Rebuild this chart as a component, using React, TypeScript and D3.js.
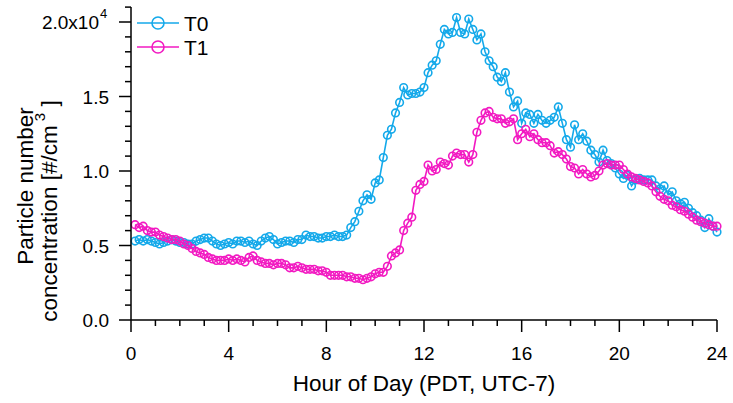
import React from "react";
import * as d3 from "d3";

// particle number concentration, units of 1e4 #/cm3, 10-min averages from 00:10 to 24:00
const t0Values = [
  0.53, 0.54, 0.53, 0.54, 0.53, 0.52,
  0.51, 0.52, 0.53, 0.54, 0.53, 0.52,
  0.52, 0.51, 0.51, 0.53, 0.54, 0.55,
  0.55, 0.53, 0.51, 0.50, 0.51, 0.52,
  0.51, 0.53, 0.53, 0.52, 0.53, 0.51,
  0.50, 0.53, 0.55, 0.56, 0.54, 0.51,
  0.52, 0.53, 0.53, 0.52, 0.54, 0.54,
  0.57, 0.56, 0.56, 0.55, 0.55, 0.56,
  0.56, 0.57, 0.56, 0.56, 0.57, 0.62,
  0.66, 0.73, 0.80, 0.84, 0.81, 0.92,
  0.94, 1.09, 1.24, 1.28, 1.39, 1.46,
  1.56, 1.51, 1.52, 1.52, 1.53, 1.56,
  1.66, 1.71, 1.74, 1.85, 1.95, 1.92,
  1.93, 2.03, 1.93, 1.92, 2.02, 1.95,
  1.88, 1.92, 1.80, 1.74, 1.70, 1.63,
  1.60, 1.66, 1.53, 1.43, 1.47, 1.32,
  1.39, 1.38, 1.32, 1.38, 1.34, 1.32,
  1.34, 1.36, 1.43, 1.32, 1.21, 1.16,
  1.31, 1.21, 1.25, 1.20, 1.14, 1.11,
  1.06, 1.14, 1.07, 1.05, 1.02, 0.98,
  0.95, 0.97, 0.90, 0.94, 0.95, 0.94,
  0.94, 0.94, 0.90, 0.88, 0.90, 0.84,
  0.86, 0.80, 0.78, 0.79, 0.75, 0.72,
  0.70, 0.67, 0.62, 0.68, 0.63, 0.59,
];

const t1Values = [
  0.64, 0.62, 0.63, 0.60, 0.59, 0.59,
  0.57, 0.56, 0.55, 0.54, 0.54, 0.53,
  0.51, 0.50, 0.48, 0.46, 0.45, 0.44,
  0.42, 0.41, 0.40, 0.40, 0.40, 0.41,
  0.40, 0.41, 0.40, 0.39, 0.42, 0.43,
  0.40, 0.39, 0.38, 0.38, 0.37, 0.38,
  0.38, 0.37, 0.35, 0.35, 0.36, 0.35,
  0.34, 0.34, 0.34, 0.33, 0.33, 0.32,
  0.30, 0.30, 0.30, 0.30, 0.29, 0.29,
  0.28, 0.28, 0.27, 0.28, 0.29, 0.31,
  0.32, 0.32, 0.36, 0.43, 0.45, 0.47,
  0.60, 0.65, 0.69, 0.87, 0.91, 0.93,
  1.04, 1.00, 1.01, 1.06, 1.05, 1.04,
  1.10, 1.12, 1.11, 1.11, 1.06, 1.11,
  1.26, 1.34, 1.39, 1.40, 1.36, 1.35,
  1.35, 1.32, 1.33, 1.35, 1.21, 1.25,
  1.28, 1.23, 1.25, 1.21, 1.19, 1.19,
  1.17, 1.12, 1.13, 1.11, 1.08, 1.03,
  1.02, 0.98, 1.01, 0.98, 0.96, 0.97,
  1.00, 1.04, 1.05, 1.04, 1.04, 1.04,
  1.01, 0.98, 0.96, 0.95, 0.94, 0.93,
  0.92, 0.90, 0.86, 0.83, 0.81, 0.80,
  0.77, 0.76, 0.74, 0.73, 0.71, 0.69,
  0.67, 0.66, 0.65, 0.64, 0.63, 0.63,
];

const seriesNames = ["T0", "T1"];
const seriesColors = ["#14a9ea", "#f21ac2"];
const xMajorTicks = [0, 4, 8, 12, 16, 20, 24];
const yMajorTicks = [0, 0.5, 1.0, 1.5, 2.0];

const hours = t0Values.map((_, i) => (i + 1) / 6);

const W = 733;
const H = 403;
const FONT = "'Liberation Sans', Arial, sans-serif";

export default function App() {
  const x = d3.scaleLinear().domain([0, 24]).range([131, 717]);
  const y = d3.scaleLinear().domain([0, 2.1]).range([320, 7.1]);

  const line = d3
    .line<number>()
    .x((_, i) => x(hours[i]))
    .y((d) => y(d));

  const xMinor = d3.range(0, 25, 1);
  const yMinor = d3.range(0, 22, 1).map((d) => d / 10);

  const series = [t0Values, t1Values];

  return (
    <div style={{ position: "absolute", left: 0, top: 0 }}>
      <svg width={W} height={H} style={{ display: "block", background: "#fff" }}>
        {/* data */}
        {series.map((vals, si) => (
          <g key={seriesNames[si]}>
            <path d={line(vals) || ""} fill="none" stroke={seriesColors[si]} strokeWidth={1.6} />
            {vals.map((v, i) => (
              <circle
                key={i}
                cx={x(hours[i])}
                cy={y(v)}
                r={3.8}
                fill="none"
                stroke={seriesColors[si]}
                strokeWidth={1.6}
              />
            ))}
          </g>
        ))}

        {/* axes */}
        <g stroke="#000" strokeWidth={1.5}>
          <line x1={x(0)} x2={x(0)} y1={y(2.1)} y2={y(0)} />
          <line x1={x(0)} x2={x(24)} y1={y(0)} y2={y(0)} />
          {xMinor.map((h) => {
            const major = h % 4 === 0;
            return <line key={"xt" + h} x1={x(h)} x2={x(h)} y1={y(0)} y2={y(0) + (major ? 12 : 6)} />;
          })}
          {yMinor.map((v, i) => {
            const major = i % 5 === 0;
            return <line key={"yt" + i} x1={x(0)} x2={x(0) - (major ? 12 : 6)} y1={y(v)} y2={y(v)} />;
          })}
        </g>

        <g fontFamily={FONT} fontSize={19} fill="#000">
          {xMajorTicks.map((h) => (
            <text key={"xl" + h} x={x(h)} y={y(0) + 40} textAnchor="middle">
              {h}
            </text>
          ))}
          {yMajorTicks.map((v) => (
            <text key={"yl" + v} x={v === 2 ? 99 : 109} y={y(v) + 7} textAnchor="end">
              {v.toFixed(1)}
              {v === 2 ? "x10" : ""}
            </text>
          ))}
          <text x={100} y={y(2) - 4} fontSize={13}>4</text>

          <text x={x(12)} y={391} textAnchor="middle" fontSize={22.5}>Hour of Day (PDT, UTC-7)</text>

          <text transform="translate(33,186) rotate(-90)" textAnchor="middle" fontSize={22.5}>
            Particle number
          </text>
          <text transform="translate(57,211) rotate(-90)" textAnchor="middle" fontSize={22.5}>
            concentration [#/cm
            <tspan fontSize={15} dy={-12}> 3</tspan>
            <tspan dy={12}> ]</tspan>
          </text>
        </g>

        {/* legend */}
        {seriesNames.map((name, i) => (
          <g key={"lg" + name} transform={`translate(0,${23 + i * 24})`}>
            <line x1={137} x2={179} y1={0} y2={0} stroke={seriesColors[i]} strokeWidth={1.6} />
            <circle cx={158} cy={0} r={6} fill="none" stroke={seriesColors[i]} strokeWidth={1.6} />
            <text x={184} y={7.5} fontFamily={FONT} fontSize={21}>
              {name}
            </text>
          </g>
        ))}
      </svg>
    </div>
  );
}
